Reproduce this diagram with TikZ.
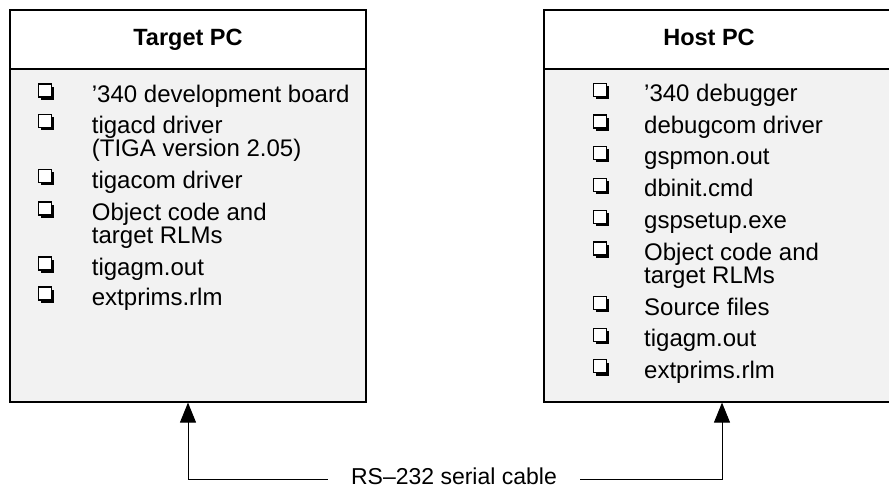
\documentclass[tikz,border=0pt]{standalone}
\usepackage{fontspec}
\setmainfont{Liberation Sans}
\usetikzlibrary{arrows.meta,shadows}
\definecolor{bodygray}{HTML}{F2F2F2}
\tikzset{
  hdr/.style={draw=black, line width=1.2pt, fill=white, minimum width=356pt, minimum height=59pt, inner sep=0pt},
  bdy/.style={draw=black, line width=1.2pt, fill=bodygray, minimum width=356pt, minimum height=333pt, inner sep=0pt},
  ttl/.style={font=\fontsize{23.5}{23.5}\selectfont\bfseries, inner sep=0pt, anchor=base},
  itm/.style={font=\fontsize{24}{23}\selectfont, anchor=base west, inner sep=0pt},
  chk/.style={draw=black, line width=1.1pt, fill=white, minimum size=13pt, inner sep=0pt,
    general shadow={fill=black, shadow xshift=2.7pt, shadow yshift=-2.7pt}},
  arr/.style={line width=1pt, -{Triangle[length=20pt,width=16pt]}},
  cab/.style={font=\fontsize{23}{23}\selectfont, inner xsep=23pt, inner ysep=0pt, anchor=base},
}
\begin{document}
\begin{tikzpicture}[x=1pt,y=-1pt]
\useasboundingbox (0,0) rectangle (889,489);
\clip (0,0) rectangle (889,489);
% boxes
\node[hdr] (tgth) at (188,39.5) {};
\node[bdy] (tgtb) at (188,235.5) {};
\node[hdr] (hosth) at (722,39.5) {};
\node[bdy] (hostb) at (722,235.5) {};
\node[ttl] (tgtt) at (188,46) {Target PC};
\node[ttl] (hostt) at (709,46) {Host PC};
% target items
\node[chk] (lc1) at (45.2,90.5) {};
\node[itm] (l1) at (91.7,102.5) {’340 development board};
\node[chk] (lc2) at (45.2,121.3) {};
\node[itm] (l2) at (91.7,133.3) {tigacd driver};
\node[itm] (l2b) at (91.7,156.3) {(TIGA version 2.05)};
\node[chk] (lc3) at (45.2,176.3) {};
\node[itm] (l3) at (91.7,188.3) {tigacom driver};
\node[chk] (lc4) at (45.2,208.5) {};
\node[itm] (l4) at (91.7,220.5) {Object code and};
\node[itm] (l4b) at (91.7,243.3) {target RLMs};
\node[chk] (lc5) at (45.2,263.5) {};
\node[itm] (l5) at (91.7,275.5) {tigagm.out};
\node[chk] (lc6) at (45.2,293.5) {};
\node[itm] (l6) at (91.7,305.5) {extprims.rlm};
% host items
\node[chk] (rc1) at (600.2,90) {};
\node[itm] (r1) at (644,102) {’340 debugger};
\node[chk] (rc2) at (600.2,121.5) {};
\node[itm] (r2) at (644,133.5) {debugcom driver};
\node[chk] (rc3) at (600.2,153) {};
\node[itm] (r3) at (644,165) {gspmon.out};
\node[chk] (rc4) at (600.2,184.7) {};
\node[itm] (r4) at (644,196.7) {dbinit.cmd};
\node[chk] (rc5) at (600.2,217) {};
\node[itm] (r5) at (644,229) {gspsetup.exe};
\node[chk] (rc6) at (600.2,248.5) {};
\node[itm] (r6) at (644,260.5) {Object code and};
\node[itm] (r6b) at (644,283.5) {target RLMs};
\node[chk] (rc7) at (600.2,303) {};
\node[itm] (r7) at (644,315) {Source files};
\node[chk] (rc8) at (600.2,334.7) {};
\node[itm] (r8) at (644,346.7) {tigagm.out};
\node[chk] (rc9) at (600.2,366.3) {};
\node[itm] (r9) at (644,378.3) {extprims.rlm};
% cable
\coordinate (cy) at (454,479.5);
\node[cab] (lbl) at (454,484.3) {RS–232 serial cable};
\draw[arr] (lbl.west |- cy) -| (tgtb.south);
\draw[arr] (lbl.east |- cy) -| (hostb.south);
\end{tikzpicture}
\end{document}
